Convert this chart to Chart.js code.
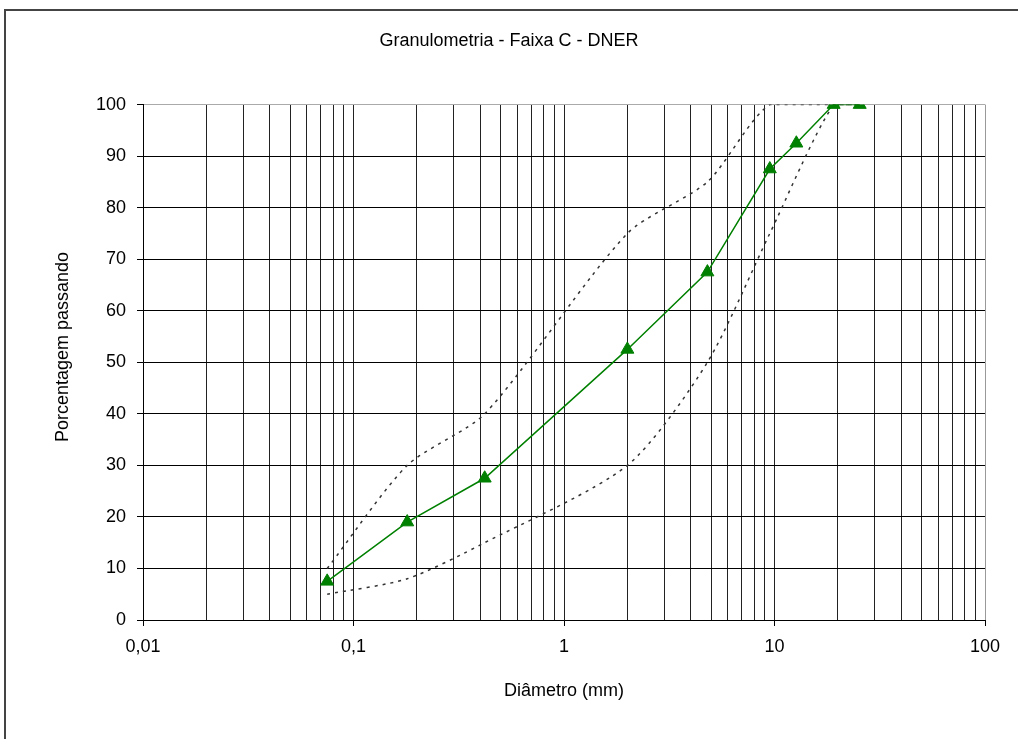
<!DOCTYPE html>
<html>
<head>
<meta charset="utf-8">
<script src="https://cdn.jsdelivr.net/npm/chart.js@4.4.1/dist/chart.umd.min.js"></script>
<style>
  html, body { margin: 0; padding: 0; background: #fff; overflow: hidden; }
  #frame {
    position: absolute; left: 4px; top: 9px;
    width: 1200px; height: 900px;
    border-left: 2px solid #444; border-top: 2px solid #444;
  }
  #chart { position: absolute; left: 0; top: 0; }
</style>
</head>
<body>
<div id="frame"></div>
<canvas id="chart" width="1018" height="739"></canvas>
<script>
// --- Data ---
const sieves = [0.075, 0.18, 0.42, 2.0, 4.8, 9.5, 12.7, 19.1, 25.4];   // mm
const amostra = [7.5, 19, 27.5, 52.5, 67.5, 87.5, 92.5, 100, 100];    // % passando

const limitSieves = [0.075, 0.18, 0.42, 2.0, 4.8, 9.5, 19.1, 25.4];
const limiteSuperior = [10, 30, 40, 75, 85, 100, 100, 100];
const limiteInferior = [5, 8, 15, 30, 50, 75, 100, 100];

const xDecades = [0.01, 0.1, 1, 10, 100];
const xTickLabels = ['0,01', '0,1', '1', '10', '100'];
const yTicks = [0, 10, 20, 30, 40, 50, 60, 70, 80, 90, 100];

const FONT = 'Liberation Sans, Arial, sans-serif';

// grid values: 1..9 per decade
const xGridValues = [];
for (let d = 0; d < xDecades.length - 1; d++) {
  for (let m = 1; m <= 9; m++) xGridValues.push(+(m * xDecades[d]).toPrecision(6));
}
xGridValues.push(xDecades[xDecades.length - 1]);

function isDecade(v) {
  return xDecades.some(d => Math.abs(d - v) < 1e-9);
}

function toPoints(xs, ys) {
  return xs.map((x, i) => ({ x, y: ys[i] }));
}

// y axis title drawn by hand so it sits where the original puts it
const yTitlePlugin = {
  id: 'yTitle',
  afterDraw(chart) {
    const ctx = chart.ctx;
    ctx.save();
    ctx.translate(63, 347);
    ctx.rotate(-Math.PI / 2);
    ctx.font = '18px ' + FONT;
    ctx.fillStyle = '#000';
    ctx.textAlign = 'center';
    ctx.textBaseline = 'middle';
    ctx.fillText('Porcentagem passando', 0, 0);
    ctx.restore();
  }
};

new Chart(document.getElementById('chart'), {
  type: 'line',
  data: {
    datasets: [
      {
        label: 'Amostra',
        data: toPoints(sieves, amostra),
        borderColor: '#008000',
        backgroundColor: '#008000',
        borderWidth: 1.5,
        pointStyle: 'triangle',
        pointRadius: 7.5,
        pointBorderWidth: 1,
        tension: 0
      },
      {
        label: 'Limite superior',
        data: toPoints(limitSieves, limiteSuperior),
        borderColor: '#333',
        borderWidth: 1.5,
        borderDash: [3, 5],
        pointRadius: 0,
        tension: 0.25
      },
      {
        label: 'Limite inferior',
        data: toPoints(limitSieves, limiteInferior),
        borderColor: '#333',
        borderWidth: 1.5,
        borderDash: [3, 5],
        pointRadius: 0,
        tension: 0.25
      }
    ]
  },
  options: {
    responsive: false,
    animation: false,
    devicePixelRatio: 1,
    layout: { padding: { left: 33, right: 33, top: 0, bottom: 0 } },
    plugins: {
      legend: { display: false },
      tooltip: { enabled: false },
      title: {
        display: true,
        text: 'Granulometria - Faixa C - DNER',
        color: '#000',
        font: { family: FONT, size: 18, weight: 'normal' },
        padding: { top: 30, bottom: 53 }
      }
    },
    scales: {
      x: {
        type: 'logarithmic',
        min: 0.01,
        max: 100,
        afterBuildTicks(scale) {
          scale.ticks = xGridValues.map(v => ({ value: v, major: isDecade(v) }));
        },
        afterFit(scale) { scale.height = 119; },
        ticks: {
          autoSkip: false,
          maxRotation: 0,
          padding: 10,
          color: '#000',
          font: { family: FONT, size: 18 },
          callback(value) {
            const i = xDecades.findIndex(d => Math.abs(d - value) < 1e-9);
            return i >= 0 ? xTickLabels[i] : '';
          }
        },
        grid: {
          color: ctx => (ctx.tick && Math.abs(ctx.tick.value - 100) < 1e-9) ? '#999' : '#222',
          lineWidth: 1,
          tickLength: 6,
          tickColor: ctx => (ctx.tick && isDecade(ctx.tick.value)) ? '#000' : 'rgba(0,0,0,0)'
        },
        border: { color: '#000', width: 1 },
        title: {
          display: true,
          text: 'Diâmetro (mm)',
          color: '#000',
          font: { family: FONT, size: 18 },
          padding: { top: 0, bottom: 37 }
        }
      },
      y: {
        min: 0,
        max: 100,
        afterBuildTicks(scale) {
          scale.ticks = yTicks.map(v => ({ value: v }));
        },
        afterFit(scale) { scale.width = 110; },
        ticks: {
          padding: 11,
          color: '#000',
          font: { family: FONT, size: 18 }
        },
        grid: {
          color: ctx => (ctx.tick && ctx.tick.value === 100) ? '#aaa' : '#000',
          lineWidth: 1,
          tickLength: 6,
          tickColor: '#000'
        },
        border: { color: '#000', width: 1 }
      }
    }
  },
  plugins: [yTitlePlugin]
});
</script>
</body>
</html>
